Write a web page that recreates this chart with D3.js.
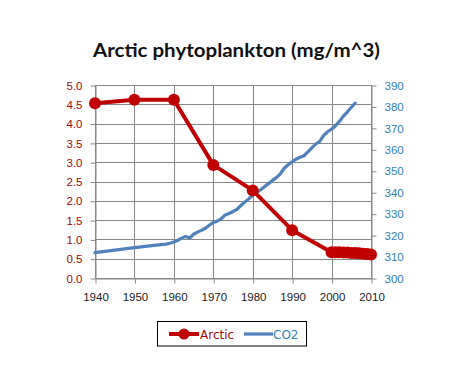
<!DOCTYPE html>
<html><head><meta charset="utf-8">
<script src="https://cdn.jsdelivr.net/npm/d3@7"></script>
<style>body{margin:0;background:#fff;} svg{display:block;}</style>
</head><body>
<script>
const arcticYears = [1940,1950,1960,1970,1980,1990,2000,2001,2002,2003,2004,2005,2006,2007,2008,2009,2010];
const arcticValues = [4.53,4.62,4.62,2.93,2.27,1.24,0.67,0.67,0.67,0.66,0.66,0.65,0.65,0.64,0.63,0.62,0.61];
const co2Years = [1940,1945,1950,1955,1958,1959,1960,1961,1962,1963,1964,1965,1966,1967,1968,1969,1970,1971,1972,1973,1974,1975,1976,1977,1978,1979,1980,1981,1982,1983,1984,1985,1986,1987,1988,1989,1990,1991,1992,1993,1994,1995,1996,1997,1998,1999,2000,2001,2002,2003,2004,2005,2006];
const co2Values = [311.8,313.0,314.2,315.2,315.8,316.2,316.8,317.6,318.6,319.4,318.6,320.4,321.4,322.2,323.2,324.6,325.9,326.5,327.6,329.4,330.1,331.0,332.0,333.8,335.4,336.9,338.6,340.0,341.1,342.6,344.0,345.5,346.8,348.6,351.2,352.8,354.2,355.4,356.3,357.0,358.8,360.7,362.5,363.7,366.5,368.2,369.4,371.0,373.0,375.5,377.4,379.6,381.5];
const xTicks = [1940,1950,1960,1970,1980,1990,2000,2010];
const leftTicks = [0,0.5,1,1.5,2,2.5,3,3.5,4,4.5,5];
const rightTicks = [300,310,320,330,340,350,360,370,380,390];
const titleText = "Arctic phytoplankton (mg/m^3)";
const seriesNames = ["Arctic","CO2"];

const W=463,H=391;
const svg=d3.select("body").append("svg").attr("width",W).attr("height",H);
const x=d3.scaleLinear().domain([1940,2010]).range([95,371]);
const yL=d3.scaleLinear().domain([0,5]).range([278,85]);
const yR=d3.scaleLinear().domain([300,390]).range([278,85]);
const red="#c00000", blue="#4f81bd", grid="#878787";
const tickFont="'Liberation Sans', Arial, sans-serif";

// grid
const g=svg.append("g");
g.selectAll("line.h").data(leftTicks).join("line")
  .attr("x1",x(1940)).attr("x2",x(2010)).attr("y1",d=>Math.round(yL(d))+0.5).attr("y2",d=>Math.round(yL(d))+0.5)
  .attr("stroke",grid).attr("stroke-width",1);
g.selectAll("line.v").data(xTicks).join("line")
  .attr("x1",d=>Math.round(x(d))+0.5).attr("x2",d=>Math.round(x(d))+0.5).attr("y1",yL(5)).attr("y2",yL(0))
  .attr("stroke",grid).attr("stroke-width",1);

// axes
const axL=svg.append("g").attr("transform",`translate(${Math.round(x(1940))+0.5},0.5)`)
  .call(d3.axisLeft(yL).tickValues(leftTicks).tickSize(5).tickSizeOuter(0).tickPadding(8).tickFormat(d3.format(".1f")));
axL.select(".domain").attr("stroke",grid);
axL.selectAll(".tick line").attr("stroke",grid);
axL.selectAll("text").attr("fill","#9a0a0a").style("font-family",tickFont).style("font-size","11.5px");

const axR=svg.append("g").attr("transform",`translate(${Math.round(x(2010))+0.5},0.5)`)
  .call(d3.axisRight(yR).tickValues(rightTicks).tickSize(5).tickSizeOuter(0).tickPadding(8).tickFormat(d3.format("d")));
axR.select(".domain").attr("stroke",grid);
axR.selectAll(".tick line").attr("stroke",grid);
axR.selectAll("text").attr("fill","#2f80b4").style("font-family",tickFont).style("font-size","11.5px");

const axB=svg.append("g").attr("transform",`translate(0.5,${Math.round(yL(0))+0.5})`)
  .call(d3.axisBottom(x).tickValues(xTicks).tickSize(5).tickSizeOuter(0).tickPadding(9).tickFormat(d3.format("d")));
axB.select(".domain").attr("stroke",grid);
axB.selectAll(".tick line").attr("stroke",grid);
axB.selectAll("text").attr("fill","#1a1a1a").style("font-family",tickFont).style("font-size","11.5px");

// CO2 line
const co2=co2Years.map((yr,i)=>({x:yr,y:co2Values[i]}));
svg.append("path").datum(co2).attr("fill","none").attr("stroke",blue).attr("stroke-width",3.2)
  .attr("stroke-linejoin","round").attr("stroke-linecap","round")
  .attr("d",d3.line().x(d=>x(d.x)).y(d=>yR(d.y)));

// Arctic line
const arc=arcticYears.map((yr,i)=>({x:yr,y:arcticValues[i]}));
svg.append("path").datum(arc).attr("fill","none").attr("stroke",red).attr("stroke-width",4)
  .attr("stroke-linejoin","round")
  .attr("d",d3.line().x(d=>x(d.x)).y(d=>yL(d.y)));
svg.selectAll("circle.a").data(arc).join("circle")
  .attr("cx",d=>x(d.x)).attr("cy",d=>yL(d.y)).attr("r",6).attr("fill",red);

// title
svg.append("text").attr("x",236.5).attr("y",56.5).attr("text-anchor","middle")
  .attr("textLength",287).attr("lengthAdjust","spacingAndGlyphs")
  .style("font-family","Lato, 'Open Sans', sans-serif").style("font-weight","bold").style("font-size","19px")
  .attr("fill","#111").text(titleText);

// legend
const lg=svg.append("g");
lg.append("rect").attr("x",157.5).attr("y",321.5).attr("width",149).attr("height",24.5)
  .attr("fill","#fff").attr("stroke","#000").attr("stroke-width",1);
lg.append("line").attr("x1",169).attr("x2",199).attr("y1",334).attr("y2",334).attr("stroke",red).attr("stroke-width",4);
lg.append("circle").attr("cx",184).attr("cy",334).attr("r",5.5).attr("fill",red);
lg.append("text").attr("x",200).attr("y",338.5).text(seriesNames[0]).attr("fill","#9a0a0a")
  .style("font-family","'DejaVu Sans', sans-serif").style("font-size","12px");
lg.append("line").attr("x1",244).attr("x2",273).attr("y1",334).attr("y2",334).attr("stroke",blue).attr("stroke-width",3.2);
lg.append("text").attr("x",273).attr("y",338.5).text(seriesNames[1]).attr("fill","#2f80b4")
  .style("font-family","'DejaVu Sans', sans-serif").style("font-size","12px");
</script>
</body></html>
